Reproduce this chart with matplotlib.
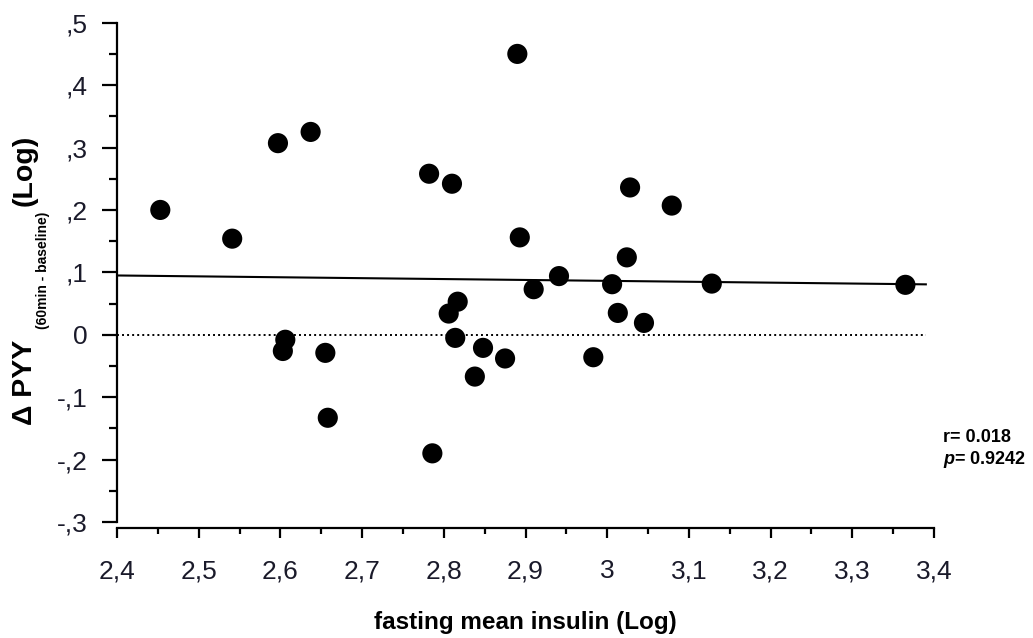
import numpy as np
import matplotlib
matplotlib.use("Agg")
import matplotlib.pyplot as plt
from matplotlib.ticker import MultipleLocator, FuncFormatter

plt.rcParams['font.family'] = ['Liberation Sans', 'DejaVu Sans']
plt.rcParams['mathtext.fontset'] = 'custom'
plt.rcParams['mathtext.it'] = 'Liberation Sans:bold:italic'
plt.rcParams['mathtext.rm'] = 'Liberation Sans:bold'

# fasting mean insulin (log) vs change in PYY (log)
insulin_log = [2.453, 2.541, 2.597, 2.637, 2.606, 2.603, 2.655, 2.658,
               2.786, 2.782, 2.810, 2.890, 2.893, 2.806, 2.817, 2.814,
               2.848, 2.838, 2.875, 2.910, 2.941, 2.983, 3.006, 3.013,
               3.024, 3.028, 3.045, 3.079, 3.128, 3.365]
dpyy_log = [0.200, 0.154, 0.307, 0.325, -0.008, -0.026, -0.029, -0.133,
            -0.190, 0.258, 0.242, 0.450, 0.156, 0.034, 0.053, -0.005,
            -0.021, -0.067, -0.038, 0.073, 0.094, -0.036, 0.081, 0.035,
            0.124, 0.236, 0.019, 0.207, 0.082, 0.080]
r_value = 0.018
p_value = 0.9242

x = np.array(insulin_log)
y = np.array(dpyy_log)

fig = plt.figure(figsize=(10.33, 6.38), dpi=100)
W, H = 1033, 638
ax = fig.add_axes([117 / W, (H - 522) / H, (934 - 117) / W, (522 - 22.7) / H])

ax.scatter(x, y, s=14.5 ** 2, color='black', edgecolors='none', zorder=3)

# least squares line across the data range
slope, intercept = np.polyfit(x, y, 1)
xl = np.array([2.4, 3.39])
ax.plot(xl, intercept + slope * xl, color='black', lw=1.5, zorder=2)
ax.plot(xl, [0, 0], color='black', lw=1.4, linestyle=(0, (1, 1.6)), zorder=2)

ax.set_xlim(2.4, 3.4)
ax.set_ylim(-0.3, 0.5)
for s in ['top', 'right']:
    ax.spines[s].set_visible(False)
ax.spines['left'].set_linewidth(1.6)
ax.spines['bottom'].set_linewidth(1.6)
ax.spines['bottom'].set_position(('outward', 4.5))

ax.xaxis.set_major_locator(MultipleLocator(0.1))
ax.xaxis.set_minor_locator(MultipleLocator(0.05))
ax.yaxis.set_major_locator(MultipleLocator(0.1))
ax.yaxis.set_minor_locator(MultipleLocator(0.05))


def comma_fmt(v, pos):
    v = round(v, 1)
    if abs(v) < 1e-9:
        return '0'
    s = ('%g' % v).replace('.', ',')
    s = s.replace('0,', ',')
    return s


ax.xaxis.set_major_formatter(FuncFormatter(comma_fmt))
ax.yaxis.set_major_formatter(FuncFormatter(comma_fmt))
ax.tick_params(axis='x', which='major', length=7, width=1.6, pad=29,
               labelsize=19, labelcolor='#1a1a2a')
ax.tick_params(axis='x', which='minor', length=4, width=1.6)
ax.tick_params(axis='y', which='major', length=11, width=1.6, pad=10,
               labelsize=19, labelcolor='#1a1a2a')
ax.tick_params(axis='y', which='minor', length=6, width=1.6)
# keep "3" on the same baseline as the comma labels
for lbl in ax.get_xticklabels():
    lbl.set_verticalalignment('baseline')

fig.text(525 / W, 1 - 622 / H, 'fasting mean insulin (Log)', ha='center',
         va='center', fontsize=17.5, fontweight='bold')

# y label pieces: main text with a smaller subscript between
fig.text(24.5 / W, 1 - 382 / H, 'Δ PYY', rotation=90, ha='center', va='center',
         fontsize=20.5, fontweight='bold')
fig.text(43 / W, 1 - 270 / H, '(60min - baseline)', rotation=90, ha='center',
         va='center', fontsize=10, fontweight='bold')
fig.text(24.5 / W, 1 - 170 / H, '(Log)', rotation=90, ha='center', va='center',
         fontsize=20.5, fontweight='bold')

fig.text(943 / W, 1 - 437 / H, 'r= %.3f' % r_value, ha='left', va='center',
         fontsize=13, fontweight='bold')
fig.text(943 / W, 1 - 459 / H, '$p$= %.4f' % p_value, ha='left', va='center',
         fontsize=13, fontweight='bold')

fig.savefig('out.png', dpi=100)
